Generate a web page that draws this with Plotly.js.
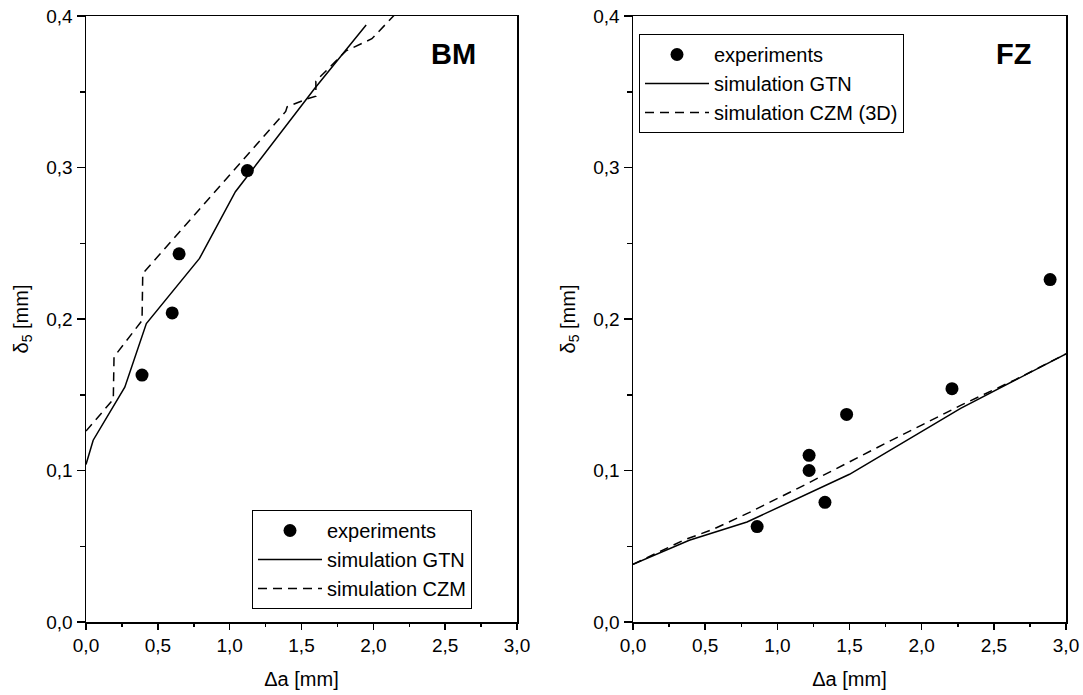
<!DOCTYPE html>
<html>
<head>
<meta charset="utf-8">
<script src="https://cdn.plot.ly/plotly-3.0.1.min.js"></script>
<style>html,body{margin:0;padding:0;background:#fff;}#chart{width:1083px;height:695px;}</style>
</head>
<body>
<div id="chart"></div>
<script>
// ---- data ----
const bmExpX = [0.39, 0.60, 0.648, 1.123];
const bmExpY = [0.163, 0.204, 0.243, 0.298];
const bmGtnX = [0, 0.05, 0.27, 0.42, 0.79, 1.04, 1.59, 1.95];
const bmGtnY = [0.104, 0.120, 0.155, 0.197, 0.240, 0.284, 0.352, 0.394];
const bmCzmX = [0, 0.19, 0.195, 0.39, 0.395, 1.39, 1.40, 1.53, 1.60, 1.60, 1.81, 1.90, 1.99, 2.15];
const bmCzmY = [0.126, 0.147, 0.175, 0.199, 0.230, 0.337, 0.340, 0.345, 0.347, 0.357, 0.377, 0.381, 0.385, 0.401];

const fzExpX = [0.86, 1.22, 1.22, 1.33, 1.48, 2.21, 2.89];
const fzExpY = [0.063, 0.110, 0.100, 0.079, 0.137, 0.154, 0.226];
const fzGtnX = [0, 0.39, 0.79, 1.5, 2.27, 3.0];
const fzGtnY = [0.038, 0.054, 0.066, 0.0975, 0.141, 0.177];
const fzCzmX = [0, 0.35, 0.55, 0.8, 1.2, 1.5, 1.75, 2.0, 2.27, 2.65, 3.0];
const fzCzmY = [0.038, 0.054, 0.061, 0.072, 0.091, 0.106, 0.118, 0.130, 0.143, 0.160, 0.177];

const legendLabelsBM = ['experiments', 'simulation GTN', 'simulation CZM'];
const legendLabelsFZ = ['experiments', 'simulation GTN', 'simulation CZM (3D)'];
const panelLabels = ['BM', 'FZ'];
const xTitle = '\u0394a [mm]';
const yTitle = '\u03b4<sub>5</sub> [mm]';

// ---- style ----
const FONT = 'Arial, "Liberation Sans", sans-serif';
const FS = 19;
const FT = 20;
const FL = 20;
const LW = 1.5;
const DASH = '9px,6px';

function exp(x, y, name, xa, ya, lg) {
  return {x: x, y: y, name: name, type: 'scatter', mode: 'markers', xaxis: xa, yaxis: ya, legend: lg,
    marker: {color: 'black', size: 13}, cliponaxis: true};
}
function line(x, y, name, xa, ya, lg, dash) {
  return {x: x, y: y, name: name, type: 'scatter', mode: 'lines', xaxis: xa, yaxis: ya, legend: lg,
    line: {color: 'black', width: LW, dash: dash}};
}

const traces = [
  exp(bmExpX, bmExpY, legendLabelsBM[0], 'x', 'y', 'legend'),
  line(bmGtnX, bmGtnY, legendLabelsBM[1], 'x', 'y', 'legend', 'solid'),
  line(bmCzmX, bmCzmY, legendLabelsBM[2], 'x', 'y', 'legend', DASH),
  exp(fzExpX, fzExpY, legendLabelsFZ[0], 'x2', 'y2', 'legend2'),
  line(fzGtnX, fzGtnY, legendLabelsFZ[1], 'x2', 'y2', 'legend2', 'solid'),
  line(fzCzmX, fzCzmY, legendLabelsFZ[2], 'x2', 'y2', 'legend2', DASH)
];

const W = 1083, H = 695;
const M = {l: 86, r: 17, t: 16, b: 73};
const PW = W - M.l - M.r;
const dLeft = [0, (517 - 86) / PW];
const dRight = [(633 - 86) / PW, 1];

function xBase(domain, anchor) {
  return {domain: domain, anchor: anchor, range: [0, 3], dtick: 0.5, tick0: 0, tickformat: '.1f',
    showline: true, linecolor: 'black', linewidth: LW, mirror: true, showgrid: false, zeroline: false,
    ticks: 'outside', ticklen: 6, tickwidth: LW, tickcolor: 'black',
    minor: {dtick: 0.25, ticks: 'outside', ticklen: 3, tickwidth: LW, tickcolor: 'black', showgrid: false},
    tickfont: {family: FONT, size: FS, color: 'black'},
    title: {text: xTitle, font: {family: FONT, size: FT, color: 'black'}, standoff: 16},
    fixedrange: true};
}
function yBase(anchor) {
  return {domain: [0, 1], anchor: anchor, range: [0, 0.4], dtick: 0.1, tick0: 0, tickformat: '.1f',
    showline: true, linecolor: 'black', linewidth: LW, mirror: true, showgrid: false, zeroline: false,
    ticks: 'outside', ticklen: 8, tickwidth: LW, tickcolor: 'black',
    minor: {dtick: 0.05, ticks: 'outside', ticklen: 5, tickwidth: LW, tickcolor: 'black', showgrid: false},
    tickfont: {family: FONT, size: FS, color: 'black'},
    title: {text: yTitle, font: {family: FONT, size: FT, color: 'black'}, standoff: 12},
    fixedrange: true};
}
function xTop(over, anchor) {
  return {overlaying: over, anchor: anchor, side: 'top', range: [0, 3], dtick: 0.5, tick0: 0,
    showticklabels: false, showline: false, showgrid: false, zeroline: false,
    ticks: 'inside', ticklen: 7, tickwidth: LW, tickcolor: 'black',
    minor: {dtick: 0.25, ticks: 'inside', ticklen: 7, tickwidth: LW, tickcolor: 'black', showgrid: false},
    fixedrange: true};
}
function yRight(over, anchor) {
  return {overlaying: over, anchor: anchor, side: 'right', range: [0, 0.4], dtick: 0.1, tick0: 0,
    showticklabels: false, showline: false, showgrid: false, zeroline: false,
    ticks: 'inside', ticklen: 7, tickwidth: LW, tickcolor: 'black',
    minor: {dtick: 0.05, ticks: 'inside', ticklen: 4, tickwidth: LW, tickcolor: 'black', showgrid: false},
    fixedrange: true};
}

const legendStyle = {
  bgcolor: 'white', bordercolor: 'black', borderwidth: 1,
  font: {family: FONT, size: FL, color: 'black'},
  xanchor: 'left', yanchor: 'top', tracegroupgap: 0, itemwidth: 64
};

const layout = {
  width: W, height: H, margin: M,
  paper_bgcolor: 'white', plot_bgcolor: 'white',
  separators: ', ',
  showlegend: true,
  font: {family: FONT, size: FS, color: 'black'},
  xaxis: xBase(dLeft, 'y'),
  yaxis: yBase('x'),
  xaxis2: xBase(dRight, 'y2'),
  yaxis2: yBase('x2'),
  xaxis3: xTop('x', 'y'),
  yaxis3: yRight('y', 'x'),
  xaxis4: xTop('x2', 'y2'),
  yaxis4: yRight('y2', 'x2'),
  legend: Object.assign({}, legendStyle, {x: (252 - 86) / PW, y: (622 - 510) / 606, entrywidth: 236}),
  legend2: Object.assign({}, legendStyle, {x: (639 - 86) / PW, y: (622 - 34) / 606, entrywidth: 290}),
  annotations: [
    {text: '<b>' + panelLabels[0] + '</b>', xref: 'x domain', yref: 'y domain', x: (453 - 86) / 431, y: (622 - 54) / 606,
      xanchor: 'center', yanchor: 'middle', showarrow: false, font: {family: FONT, size: 29, color: 'black'}},
    {text: '<b>' + panelLabels[1] + '</b>', xref: 'x2 domain', yref: 'y2 domain', x: (1013 - 633) / 433, y: (622 - 54) / 606,
      xanchor: 'center', yanchor: 'middle', showarrow: false, font: {family: FONT, size: 29, color: 'black'}}
  ]
};

Plotly.newPlot('chart', traces, layout, {staticPlot: true, displayModeBar: false});
</script>
</body>
</html>
